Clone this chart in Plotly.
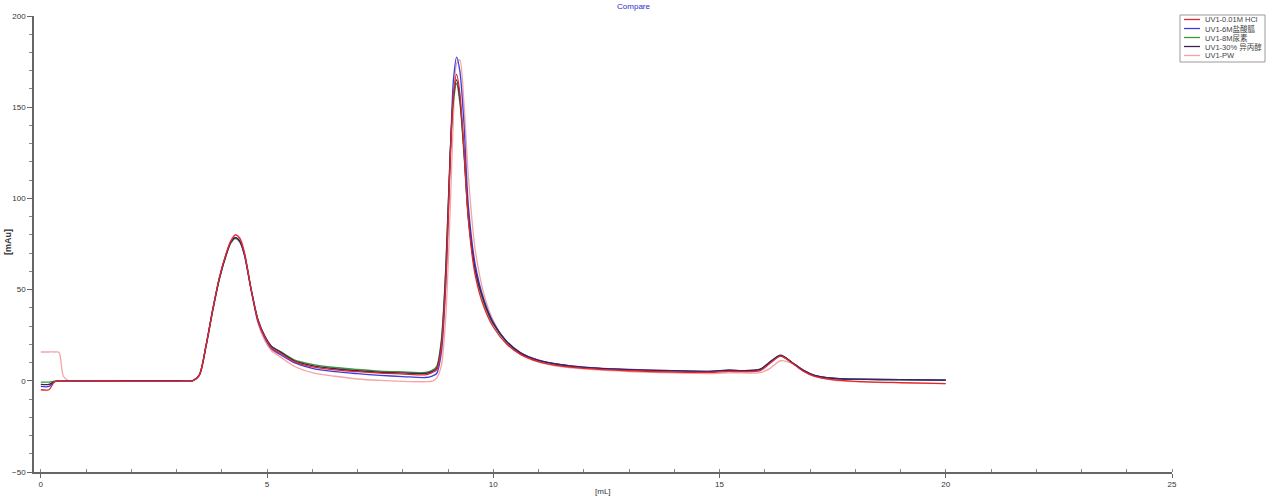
import plotly.graph_objects as go

# ---------------- data ----------------
volume_ml = [0, 0.18, 0.3, 0.4, 0.5, 0.6, 1.0, 2.0, 3.0, 3.35,
             3.5, 3.65, 3.8, 3.95, 4.1, 4.2, 4.3, 4.4, 4.5, 4.65,
             4.8, 4.95, 5.1, 5.3, 5.6, 6.0, 6.5, 7.0, 7.5, 8.0,
             8.5, 8.65, 8.75, 8.85, 8.95, 9.05, 9.12, 9.19, 9.26, 9.35,
             9.45, 9.6, 9.8, 10.0, 10.3, 10.6, 11.0, 11.5, 12.0, 13.0,
             14.0, 14.8, 15.2, 15.5, 15.9, 16.1, 16.35, 16.6, 16.85, 17.1,
             17.5, 18.0, 19.0, 20.0]

uv_hcl = [-4.9, -4.9, -0.6, 0, 0, 0, 0, -0.2, -0.2, 0,
          3, 19, 39, 57, 70, 76.5, 80, 78, 70, 50,
          33, 24, 18, 15, 10.5, 7.6, 6.0, 5.0, 4.2, 3.7,
          3.3, 4.5, 6, 18, 55, 122, 157, 168, 158, 128,
          88, 58, 40, 29.5, 20, 14.5, 10.5, 8.0, 6.8, 5.5,
          4.8, 4.6, 5.2, 5.0, 5.6, 9.2, 13.5, 9.8, 5.3, 2.4,
          0.6, -0.3, -1.0, -1.5]

uv_gdn = [-3.1, -3.1, -0.5, 0, 0, 0, 0, 0, 0, 0,
          3, 19, 39, 56.5, 69.5, 76, 78.5, 76.5, 69, 49.5,
          32.5, 23.5, 17.5, 14.3, 10, 6.8, 5.0, 3.9, 3.0, 2.3,
          1.8, 2.6, 4, 15, 53, 124, 165, 177.5, 170, 142,
          96, 64, 44, 32, 21.5, 15.5, 11.3, 8.8, 7.5, 6.2,
          5.5, 5.2, 5.9, 5.6, 6.3, 10, 13.8, 10, 5.8, 3,
          1.4, 0.9, 0.6, 0.4]

uv_urea = [-0.7, -0.7, -0.2, 0, 0, 0, 0, 0, 0, 0,
           3, 19, 38.5, 56, 69, 75.5, 78, 76, 69, 50,
           33.5, 24.5, 19, 16, 11.5, 9, 7.3, 6.2, 5.3, 4.9,
           4.6, 5.8, 8, 22, 62, 126, 153, 163, 153, 125,
           89, 60, 42, 31, 21, 15, 11, 8.6, 7.3, 6.0,
           5.4, 5.1, 5.7, 5.5, 6.2, 9.8, 13.6, 9.9, 5.7, 2.9,
           1.3, 0.8, 0.5, 0.3]

uv_ipa = [-2, -2, -0.4, 0, 0, 0, 0, 0, 0, 0,
          3, 19, 39, 56.5, 69.5, 76, 78.5, 76.5, 69.5, 50,
          33.5, 24.5, 18.8, 15.7, 11, 8.3, 6.6, 5.5, 4.7, 4.3,
          4.0, 5.2, 7, 20, 60, 126, 156, 165, 155, 127,
          90, 61, 43, 31.5, 21.5, 15.3, 11.2, 8.8, 7.4, 6.1,
          5.5, 5.2, 5.9, 5.6, 6.4, 10, 14, 10.2, 5.9, 3,
          1.4, 0.9, 0.6, 0.4]

uv_pw = [15.8, 15.8, 15.8, 15.6, 2.5, 0.3, 0, 0, 0, 0,
         2.5, 18, 38, 56.5, 70, 77, 80, 78.5, 71, 50,
         31.5, 22, 16.5, 13, 8, 4.5, 2.5, 1.0, 0.2, -0.3,
         -0.5, -0.2, 1.5, 8, 35, 95, 145, 174, 176, 153,
         112, 72, 47, 33, 21, 14.5, 10.3, 7.8, 6.5, 5.0,
         4.3, 4.0, 4.3, 4.3, 4.5, 6.5, 11, 9.5, 5.5, 2.5,
         0.4, -0.5, -1.2, -1.6]

series_names = ["UV1-0.01M HCl", "UV1-6M盐酸胍", "UV1-8M尿素", "UV1-30% 异丙醇", "UV1-PW"]
series_values = [uv_hcl, uv_gdn, uv_urea, uv_ipa, uv_pw]
series_colors = ["#e3262d", "#3c3ce0", "#3a9a3a", "#3c2450", "#f5a3a3"]

x_ticks = [0, 5, 10, 15, 20, 25]
y_ticks = [-50, 0, 50, 100, 150, 200]

FONT = "Liberation Sans, Arial, Noto Sans CJK SC, sans-serif"

fig = go.Figure()
draw_order = [4, 2, 1, 3, 0]
for i in draw_order:
    fig.add_trace(go.Scatter(
        x=volume_ml, y=series_values[i], name=series_names[i], mode="lines",
        line=dict(color=series_colors[i], width=1.3, shape="spline", smoothing=0.8),
        showlegend=False,
    ))

W, H = 1267, 498
L, R, T, B = 34, 95, 16, 26
pw_, ph_ = W - L - R, H - T - B


def px_x(px):
    return (px - L) / pw_


def px_y(py):
    return (H - B - py) / ph_


fig.update_layout(
    width=W, height=H,
    margin=dict(l=L, r=R, t=T, b=B, pad=0, autoexpand=False),
    plot_bgcolor="white", paper_bgcolor="white",
    font=dict(family=FONT, size=8, color="#333333"),
    showlegend=False,
    title=dict(text="Compare", x=0.5, xref="container", xanchor="center",
               y=1 - 6 / H, yanchor="middle", yref="container",
               font=dict(family=FONT, size=8, color="#2b2bd0")),
    xaxis=dict(range=[-0.15, 25], tickvals=x_ticks, showgrid=False, zeroline=False,
               automargin=False,
               showline=True, linecolor="#666666", linewidth=1.5,
               ticks="outside", ticklen=4, tickwidth=1, tickcolor="#666666",
               minor=dict(dtick=1, tick0=0, ticks="inside", ticklen=3, tickcolor="#888888", showgrid=False),
               tickfont=dict(size=8, color="#333333")),
    yaxis=dict(range=[-50, 200], tickvals=y_ticks, showgrid=False, zeroline=False,
               automargin=False,
               showline=True, linecolor="#666666", linewidth=1.5,
               ticks="outside", ticklen=5, tickwidth=1, tickcolor="#666666",
               minor=dict(dtick=10, tick0=0, ticks="outside", ticklen=3, tickcolor="#888888", showgrid=False),
               tickfont=dict(size=8, color="#333333")),
)

annotations = [
    dict(text="[mL]", xref="paper", yref="paper", x=0.5, y=px_y(492),
         xanchor="center", yanchor="middle", showarrow=False,
         font=dict(family=FONT, size=8, color="#333333")),
    dict(text="<b>[mAu]</b>", xref="paper", yref="paper", x=px_x(8), y=px_y(242),
         xanchor="center", yanchor="middle", showarrow=False, textangle=-90,
         font=dict(family=FONT, size=9, color="#333333")),
]
shapes = [
    dict(type="rect", xref="paper", yref="paper",
         x0=px_x(1180), x1=px_x(1265), y0=px_y(62), y1=px_y(15),
         line=dict(color="#9a9a9a", width=1), fillcolor="white", layer="above"),
]
for k, (nm, col) in enumerate(zip(series_names, series_colors)):
    yy = px_y(19.5 + 9 * k)
    shapes.append(dict(type="line", xref="paper", yref="paper",
                       x0=px_x(1184), x1=px_x(1200), y0=yy, y1=yy,
                       line=dict(color=col, width=1.3), layer="above"))
    annotations.append(dict(text=nm, xref="paper", yref="paper", x=px_x(1203), y=yy,
                            xanchor="left", yanchor="middle", showarrow=False,
                            font=dict(family=FONT, size=7.5, color="#444444")))

fig.update_layout(annotations=annotations, shapes=shapes)
fig.write_html("out.html",
               config={"displayModeBar": False},
               post_script="document.body.style.margin='0px';document.body.style.overflow='hidden';")
